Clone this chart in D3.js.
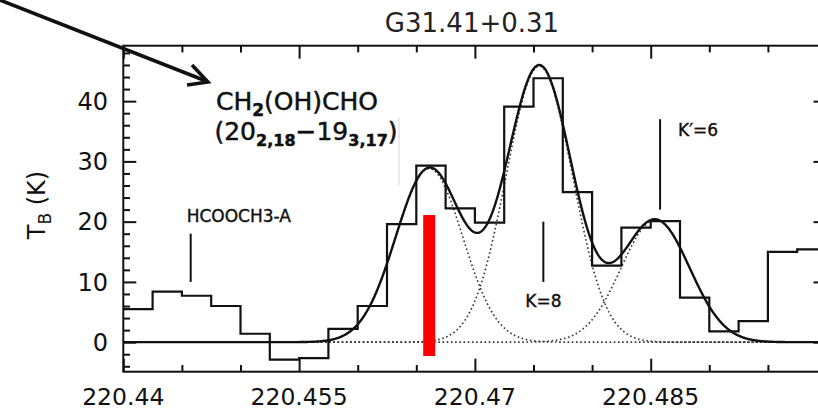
<!DOCTYPE html>
<html>
<head>
<meta charset="utf-8">
<script src="https://cdn.jsdelivr.net/npm/d3@7"></script>
<style>
  html, body { margin: 0; padding: 0; background: #fff; }
  svg { display: block; font-family: "DejaVu Sans", sans-serif; }
</style>
</head>
<body>
<svg id="chart" width="818" height="411"></svg>
<script>
// Observed spectrum: channel centres (MHz) and brightness temperature (K)
const channelCenters = [
  220.44125, 220.44375, 220.44625, 220.44875, 220.45125, 220.45375,
  220.45625, 220.45875, 220.46125, 220.46375, 220.46625, 220.46875,
  220.47125, 220.47375, 220.47625, 220.47875, 220.48125, 220.48375,
  220.48625, 220.48875, 220.49125, 220.49375, 220.49625, 220.49875
];
const channelWidth = 0.0025;
const brightness = [
  5.5, 8.4, 7.7, 6.0, 1.4, -2.9,
  -2.65, 2.2, 6.0, 19.6, 29.3, 22.2,
  19.85, 39.1, 43.8, 24.9, 12.7, 19.0,
  20.1, 7.4, 1.8, 3.5, 15.0, 15.4
];

// Gaussian components of the line fit
const fitCenters = [220.4661, 220.4755, 220.4854];
const fitPeaks   = [28.8, 45.8, 20.3];
const fitSigmas  = [0.00286, 0.00282, 0.00293];

// Line identifications
const markerFreqs  = [220.44575, 220.47584, 220.4858];
const markerBottom = [10.0, 10.0, 22.0];
const markerTop    = [18.0, 20.0, 37.0];
const markerLabels = ["HCOOCH3-A", "K=8", "K\u2032=6"];

// Glycolaldehyde transition
const targetFreq = 220.4661;
const targetSpan = [-2.3, 21.1];

// Axes
const xDomain = [220.44, 220.5];
const yDomain = [-4.9, 49.2];
const xMajorTicks = [220.44, 220.455, 220.47, 220.485, 220.5];
const xMinorTicks = [220.445, 220.45, 220.46, 220.465, 220.475, 220.48, 220.49, 220.495];
const xTickLabels = ["220.44", "220.455", "220.47", "220.485"];
const yMajorTicks = [0, 10, 20, 30, 40];
const yMinorTicks = [-4, -2, 2, 4, 6, 8, 12, 14, 16, 18, 22, 24, 26, 28, 32, 34, 36, 38, 42, 44, 46, 48];
const yTickLabels = ["0", "10", "20", "30", "40"];
const chartTitle = "G31.41+0.31";

// ---- layout ----
const svg = d3.select("#chart");
const plot = { left: 123.3, right: 826.5, top: 45.7, bottom: 371.7 };

const x = d3.scaleLinear().domain(xDomain).range([plot.left, plot.right]);
const y = d3.scaleLinear().domain(yDomain).range([plot.bottom, plot.top]);

const ink = "#111";

// frame + ticks (ticks point inward on all four sides)
const majorLen = 13, minorLen = 6.7;
function tickGroup(axisFn, scale, values, len, transform) {
  svg.append("g")
    .attr("transform", transform)
    .call(axisFn(scale).tickValues(values).tickSize(-len).tickFormat(""))
    .call(g => g.select(".domain").remove())
    .call(g => g.selectAll("line").attr("stroke", ink).attr("stroke-width", 2));
}
tickGroup(d3.axisBottom, x, xMajorTicks, majorLen, `translate(0,${plot.bottom})`);
tickGroup(d3.axisBottom, x, xMinorTicks, minorLen, `translate(0,${plot.bottom})`);
tickGroup(d3.axisTop, x, xMajorTicks, majorLen, `translate(0,${plot.top})`);
tickGroup(d3.axisTop, x, xMinorTicks, minorLen, `translate(0,${plot.top})`);
tickGroup(d3.axisLeft, y, yMajorTicks, majorLen, `translate(${plot.left},0)`);
tickGroup(d3.axisLeft, y, yMinorTicks, minorLen, `translate(${plot.left},0)`);
tickGroup(d3.axisRight, y, yMajorTicks, majorLen, `translate(${plot.right},0)`);
tickGroup(d3.axisRight, y, yMinorTicks, minorLen, `translate(${plot.right},0)`);

svg.append("rect")
  .attr("x", plot.left).attr("y", plot.top)
  .attr("width", plot.right - plot.left).attr("height", plot.bottom - plot.top)
  .attr("fill", "none").attr("stroke", ink).attr("stroke-width", 2);

// tick labels
svg.append("g").selectAll("text").data(xTickLabels).join("text")
  .attr("x", (d, i) => x(xMajorTicks[i]))
  .attr("y", 405)
  .attr("text-anchor", "middle")
  .attr("font-size", 23.5).attr("fill", ink)
  .text(d => d);

svg.append("g").selectAll("text").data(yTickLabels).join("text")
  .attr("x", 108)
  .attr("y", (d, i) => y(yMajorTicks[i]))
  .attr("dy", "0.36em")
  .attr("text-anchor", "end")
  .attr("font-size", 24).attr("fill", ink)
  .text(d => d);

// y-axis title  T_B (K)
const yTitle = svg.append("text")
  .attr("transform", "translate(45,205) rotate(-90)")
  .attr("text-anchor", "middle")
  .attr("font-size", 24).attr("fill", ink);
yTitle.append("tspan").text("T");
yTitle.append("tspan").attr("font-size", 17).attr("dy", 6).text("B");
yTitle.append("tspan").attr("dy", -6).text(" (K)");

// chart title
svg.append("text")
  .attr("x", 472).attr("y", 32)
  .attr("text-anchor", "middle")
  .attr("font-size", 26).attr("fill", "#222")
  .text(chartTitle);

// ---- data marks ----
svg.append("clipPath").attr("id", "plotclip")
  .append("rect")
  .attr("x", plot.left).attr("y", plot.top)
  .attr("width", plot.right - plot.left).attr("height", plot.bottom - plot.top);
const area = svg.append("g").attr("clip-path", "url(#plotclip)");

const gauss = (f, i) => fitPeaks[i] * Math.exp(-((f - fitCenters[i]) ** 2) / (2 * fitSigmas[i] ** 2));
const sampleFreqs = d3.range(xDomain[0], xDomain[1] + 1e-6, 0.00005);

// individual components (dotted)
fitCenters.forEach((c, i) => {
  area.append("path")
    .datum(sampleFreqs)
    .attr("fill", "none")
    .attr("stroke", "#333")
    .attr("stroke-width", 1.6)
    .attr("stroke-dasharray", "1.6 2.6")
    .attr("d", d3.line().x(f => x(f)).y(f => y(gauss(f, i))));
});

// histogram spectrum
const stepPts = channelCenters.map((c, i) => [c - channelWidth / 2, brightness[i]]);
stepPts.push([channelCenters[channelCenters.length - 1] + channelWidth / 2, brightness[brightness.length - 1]]);
area.append("path")
  .datum(stepPts)
  .attr("fill", "none")
  .attr("stroke", ink)
  .attr("stroke-width", 2.2)
  .attr("d", d3.line().x(d => x(d[0])).y(d => y(d[1])).curve(d3.curveStepAfter));

// total fit (solid)
area.append("path")
  .datum(sampleFreqs)
  .attr("fill", "none")
  .attr("stroke", ink)
  .attr("stroke-width", 2.4)
  .attr("d", d3.line().x(f => x(f)).y(f => y(d3.sum(fitCenters, (c, i) => gauss(f, i)))));

// line identification markers
svg.append("g").selectAll("line").data(markerFreqs).join("line")
  .attr("x1", d => x(d)).attr("x2", d => x(d))
  .attr("y1", (d, i) => y(markerBottom[i]))
  .attr("y2", (d, i) => y(markerTop[i]))
  .attr("stroke", ink).attr("stroke-width", 2);

const labelPlacement = [
  { dx: -4, dy: -12, anchor: "start", at: "top" },
  { dx: 0, dy: 25, anchor: "middle", at: "bottom" },
  { dx: 18, dy: 16.7, anchor: "start", at: "top" }
];
svg.append("g").selectAll("text").data(markerLabels).join("text")
  .attr("x", (d, i) => x(markerFreqs[i]) + labelPlacement[i].dx)
  .attr("y", (d, i) => y(labelPlacement[i].at === "top" ? markerTop[i] : markerBottom[i]) + labelPlacement[i].dy)
  .attr("text-anchor", (d, i) => labelPlacement[i].anchor)
  .attr("font-size", 17).attr("fill", ink)
  .attr("stroke", ink).attr("stroke-width", 0.4)
  .text(d => d);

// faint rule beside the molecule label
svg.append("line")
  .attr("x1", 399).attr("x2", 399).attr("y1", 118).attr("y2", 185)
  .attr("stroke", "#d4d4d4").attr("stroke-width", 1);

// glycolaldehyde transition label
const mol = svg.append("g").attr("fill", ink).attr("stroke", ink).attr("stroke-width", 0.5);
const line1 = mol.append("text").attr("x", 297).attr("y", 110)
  .attr("text-anchor", "middle").attr("font-size", 25);
line1.append("tspan").text("CH");
line1.append("tspan").attr("font-size", 17).attr("dy", 6).attr("font-weight", "bold").text("2");
line1.append("tspan").attr("dy", -6).text("(OH)CHO");

const line2 = mol.append("text").attr("x", 306).attr("y", 140)
  .attr("text-anchor", "middle").attr("font-size", 25);
line2.append("tspan").text("(20");
line2.append("tspan").attr("font-size", 16).attr("dy", 6).attr("font-weight", "bold").text("2,18");
line2.append("tspan").attr("dy", -6).text("\u221219");
line2.append("tspan").attr("font-size", 16).attr("dy", 6).attr("font-weight", "bold").text("3,17");
line2.append("tspan").attr("dy", -6).text(")");

// red bar at the transition frequency
svg.append("rect")
  .attr("x", x(targetFreq) - 6)
  .attr("width", 12)
  .attr("y", y(targetSpan[1]))
  .attr("height", y(targetSpan[0]) - y(targetSpan[1]))
  .attr("fill", "#ff0000");

// pointer arrow toward the molecule label
svg.append("line")
  .attr("x1", 0).attr("y1", 0).attr("x2", 206).attr("y2", 81)
  .attr("stroke", ink).attr("stroke-width", 3.5);
svg.append("polyline")
  .attr("points", "192,65 208,82 187,85")
  .attr("fill", "none").attr("stroke", ink).attr("stroke-width", 3.5)
  .attr("stroke-linejoin", "miter");
</script>
</body>
</html>
